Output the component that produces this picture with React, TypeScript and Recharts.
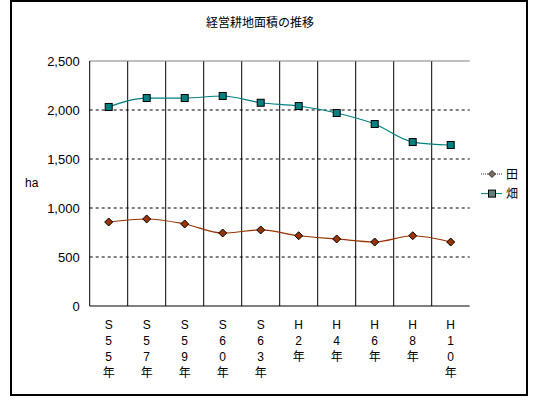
import { LineChart, Line, XAxis, YAxis, CartesianGrid, ReferenceLine, Legend } from 'recharts';

const years = ['S55年', 'S57年', 'S59年', 'S60年', 'S63年', 'H2年', 'H4年', 'H6年', 'H8年', 'H10年'];
const taValues = [857, 888, 837, 745, 776, 717, 684, 653, 717, 653];
const hataValues = [2031, 2122, 2122, 2143, 2074, 2041, 1969, 1857, 1673, 1643];
const yTicks = [0, 500, 1000, 1500, 2000, 2500];
const yMax = 2500;

const data = years.map((year, i) => ({ year, ta: taValues[i], hata: hataValues[i] }));

const numFont = '"Liberation Sans", Arial, sans-serif';
const jpFont = '"Noto Sans CJK JP", "Liberation Sans", sans-serif';

const Diamond = ({ cx, cy, fill }: any) => {
  if (cx == null || cy == null) return null;
  const r = 4;
  return (
    <polygon
      points={`${cx},${cy - r} ${cx + r},${cy} ${cx},${cy + r} ${cx - r},${cy}`}
      fill={fill}
      stroke="#000"
      strokeWidth={1}
    />
  );
};

const Square = ({ cx, cy, fill }: any) => {
  if (cx == null || cy == null) return null;
  return <rect x={cx - 3.5} y={cy - 3.5} width={7} height={7} fill={fill} stroke="#000" strokeWidth={1} />;
};

// vertical stacked labels, one character per line
const StackedTick = ({ x, y, payload }: any) => {
  const chars = Array.from(String(payload.value));
  return (
    <text x={x} y={y} textAnchor="middle" fontSize={12} fill="#000" fontFamily={jpFont}>
      {chars.map((c, i) => (
        <tspan key={i} x={x} dy={i === 0 ? 15 : 16} fontFamily={c === '年' ? jpFont : numFont}>
          {c}
        </tspan>
      ))}
    </text>
  );
};

const renderLegend = () => (
  <svg width={50} height={40}>
    <line x1={3} y1={10} x2={24} y2={10} stroke="#333" strokeDasharray="1 1" />
    <polygon points="14,6.5 17.5,10 14,13.5 10.5,10" fill="#7a6a62" stroke="#333" />
    <text x={28} y={14.5} fontSize={12} fontFamily={jpFont} fill="#000">田</text>
    <line x1={3} y1={29.6} x2={24} y2={29.6} stroke="#008080" />
    <rect x={10.5} y={26.1} width={7} height={7} fill="#608080" stroke="#000" />
    <text x={28} y={34} fontSize={12} fontFamily={jpFont} fill="#000">畑</text>
  </svg>
);

export default function App() {
  return (
    <div style={{ position: 'absolute', left: 0, top: 0, width: 539, height: 400, background: '#fff' }}>
      <div
        style={{
          position: 'absolute',
          left: 10,
          top: 0,
          width: 518,
          height: 396,
          border: '2px solid #000',
          boxSizing: 'border-box',
        }}
      />
      <div
        style={{
          position: 'absolute',
          left: 160,
          width: 200,
          top: 13,
          textAlign: 'center',
          fontSize: 12,
          lineHeight: '18px',
          fontFamily: jpFont,
        }}
      >
        経営耕地面積の推移
      </div>
      <div
        style={{
          position: 'absolute',
          left: 25,
          top: 175,
          fontSize: 12,
          lineHeight: '16px',
          fontFamily: numFont,
        }}
      >
        ha
      </div>
      <div style={{ position: 'absolute', left: 0, top: 0 }}>
        <LineChart width={539} height={400} data={data} margin={{ top: 61, right: 69.3, left: 9.7, bottom: 14 }}>
          {/* dashed lines only between the axis and the top border */}
          <CartesianGrid
            horizontal={true}
            vertical={false}
            stroke="#000"
            strokeDasharray="3 3"
            horizontalCoordinatesGenerator={({ offset }: any) =>
              yTicks.slice(1, -1).map((v) => offset.top + offset.height * (1 - v / yMax))
            }
          />
          <CartesianGrid
            horizontal={false}
            vertical={true}
            stroke="#000"
            verticalCoordinatesGenerator={({ offset }: any) =>
              years.slice(1).map((_, k) => offset.left + ((k + 1) * offset.width) / years.length)
            }
          />
          <ReferenceLine y={yMax} stroke="#808080" strokeWidth={1} />
          <XAxis
            dataKey="year"
            scale="band"
            interval={0}
            tickLine={false}
            tickSize={6}
            tickMargin={2}
            height={80}
            axisLine={{ stroke: '#000' }}
            tick={<StackedTick />}
          />
          <YAxis
            domain={[0, yMax]}
            ticks={yTicks}
            width={80}
            tickLine={false}
            tickSize={8}
            tickMargin={2}
            axisLine={{ stroke: '#000' }}
            tick={{ fontSize: 13, fill: '#000', fontFamily: numFont }}
            tickFormatter={(v: number) => v.toLocaleString('en-US')}
          />
          <YAxis
            yAxisId="right"
            orientation="right"
            domain={[0, yMax]}
            width={0}
            tick={false}
            tickLine={false}
            axisLine={{ stroke: '#808080' }}
          />
          <Legend
            layout="vertical"
            align="center"
            verticalAlign="middle"
            content={renderLegend}
            wrapperStyle={{ left: 478, top: 164, width: 50, height: 40 }}
          />
          <Line
            type="monotone"
            dataKey="ta"
            name="田"
            stroke="#993300"
            strokeWidth={1.2}
            fill="#993300"
            dot={<Diamond />}
            activeDot={false}
            isAnimationActive={false}
          />
          <Line
            type="monotone"
            dataKey="hata"
            name="畑"
            stroke="#008080"
            strokeWidth={1.2}
            fill="#008080"
            dot={<Square />}
            activeDot={false}
            isAnimationActive={false}
          />
        </LineChart>
      </div>
    </div>
  );
}
